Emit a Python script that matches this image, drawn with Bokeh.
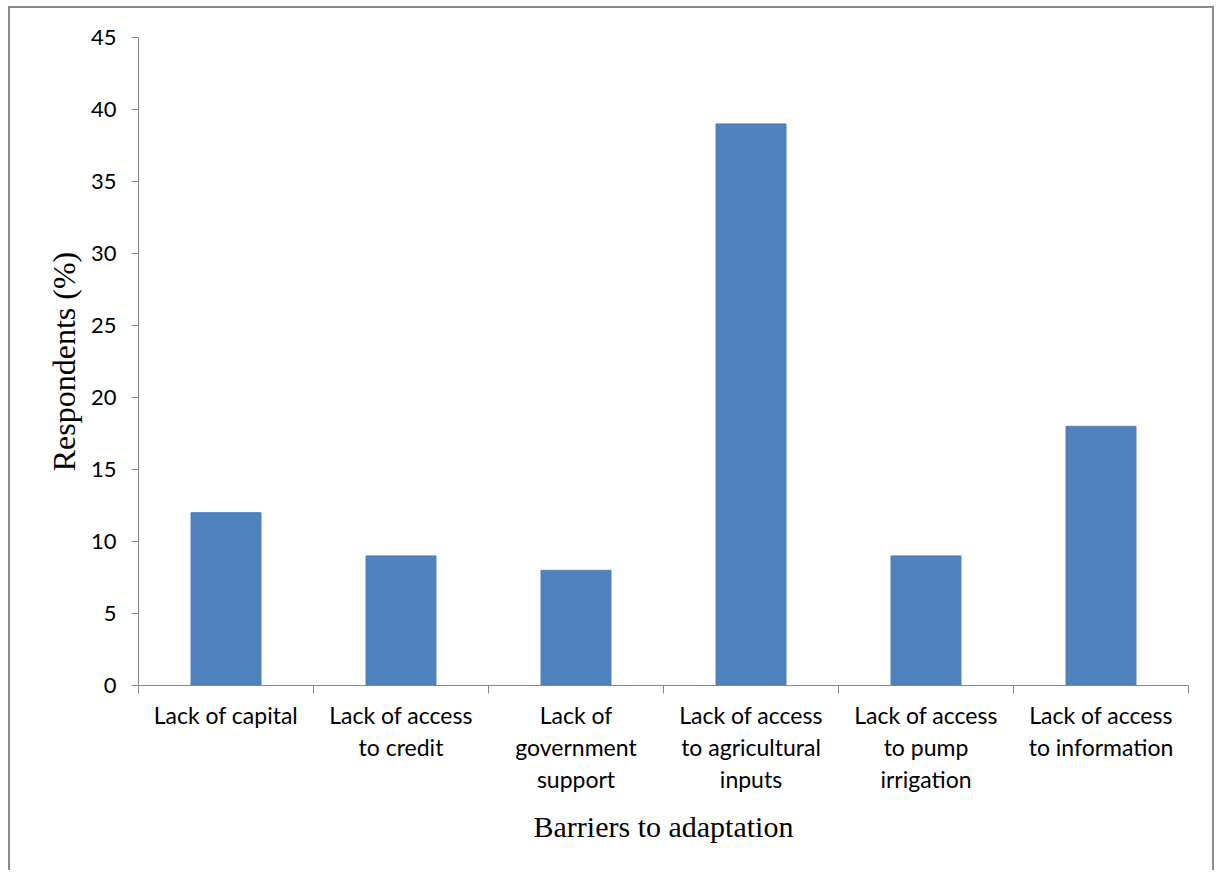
from bokeh.plotting import figure
from bokeh.models import Range1d, LinearAxis, FixedTicker, ColumnDataSource
from bokeh.embed import file_html
from bokeh.resources import INLINE

# Barriers to adaptation and share of respondents naming each
categories = [
    "Lack of capital",
    "Lack of access\nto credit",
    "Lack of\ngovernment\nsupport",
    "Lack of access\nto agricultural\ninputs",
    "Lack of access\nto pump\nirrigation",
    "Lack of access\nto information",
]
respondents = [12, 9, 8, 39, 9, 18]
y_ticks = [0, 5, 10, 15, 20, 25, 30, 35, 40, 45]

AXIS_GREY = "#868686"
BAR_BLUE = "#4F81BD"
SANS = "Lato"
SERIF = "Liberation Serif"

n = len(categories)
centers = [i + 0.5 for i in range(n)]
bounds = list(range(n + 1))
src = ColumnDataSource(dict(x=centers, val=respondents))

p = figure(
    width=1206, height=864,
    x_range=Range1d(0, n),
    y_range=Range1d(0, 45),
    output_backend="svg", toolbar_location=None,
    x_axis_location=None, y_axis_location=None,
    min_border_left=128, min_border_top=29,
    min_border_right=28, min_border_bottom=187,
)
p.styles = {"margin-left": "8px", "margin-top": "6px",
            "border": "2px solid #8c8c8c", "border-bottom": "none"}
p.outline_line_color = None
p.xgrid.visible = False
p.ygrid.visible = False

p.vbar(x="x", top="val", width=0.4, source=src,
       fill_color=BAR_BLUE, line_color=BAR_BLUE)

# y axis
yax = LinearAxis(ticker=FixedTicker(ticks=y_ticks))
yax.axis_line_color = AXIS_GREY
yax.major_tick_line_color = AXIS_GREY
yax.major_tick_out = 7
yax.major_tick_in = 0
yax.minor_tick_line_color = None
yax.major_label_text_font = SANS
yax.major_label_text_font_size = "22px"
yax.major_label_text_color = "black"
yax.major_label_standoff = 15
yax.axis_label = "Respondents (%)"
yax.axis_label_text_font = SERIF
yax.axis_label_text_font_style = "normal"
yax.axis_label_text_font_size = "32px"
yax.axis_label_text_color = "black"
yax.axis_label_standoff = 6
p.add_layout(yax, "left")

# x axis: labels centred under bars, tick marks on category boundaries
xax = LinearAxis(ticker=FixedTicker(ticks=centers, minor_ticks=bounds),
                 major_label_overrides={c: lab for c, lab in zip(centers, categories)})
xax.axis_line_color = AXIS_GREY
xax.major_tick_line_color = None
xax.major_tick_out = 8
xax.major_tick_in = 0
xax.minor_tick_line_color = AXIS_GREY
xax.minor_tick_out = 8
xax.minor_tick_in = 0
xax.major_label_text_font = SANS
xax.major_label_text_font_size = "23px"
xax.major_label_text_color = "black"
xax.major_label_text_line_height = 1.16
xax.major_label_standoff = 7
xax.axis_label = "Barriers to adaptation"
xax.axis_label_text_font = SERIF
xax.axis_label_text_font_style = "normal"
xax.axis_label_text_font_size = "30px"
xax.axis_label_text_color = "black"
xax.axis_label_standoff = 14
p.add_layout(xax, "below")

open("out.html", "w").write(file_html(p, INLINE))
